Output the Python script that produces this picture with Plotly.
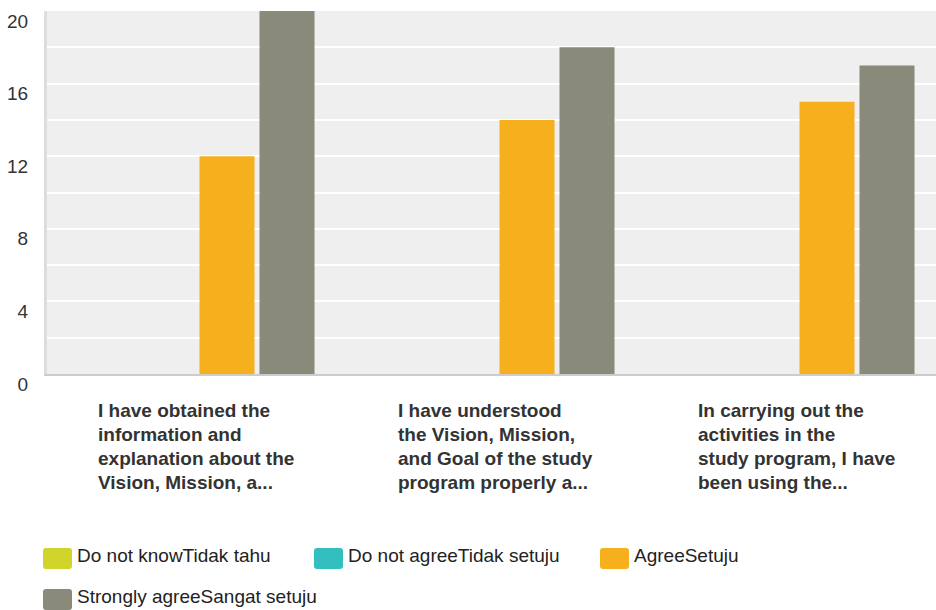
import plotly.graph_objects as go

# ---- data ----
categories = ["Q1", "Q2", "Q3"]
category_lines = [
    ["I have obtained the", "information and", "explanation about the", "Vision, Mission, a..."],
    ["I have understood", "the Vision, Mission,", "and Goal of the study", "program properly a..."],
    ["In carrying out the", "activities in the", "study program, I have", "been using the..."],
]
series_names = ["Do not knowTidak tahu", "Do not agreeTidak setuju", "AgreeSetuju", "Strongly agreeSangat setuju"]
do_not_know = [0, 0, 0]
do_not_agree = [0, 0, 0]
agree = [12, 14, 15]
strongly_agree = [20, 18, 17]
series_values = [do_not_know, do_not_agree, agree, strongly_agree]
series_colors = ["#cfd52a", "#33bfbf", "#f6b01e", "#8a8a7a"]
y_tick_values = [0, 4, 8, 12, 16, 20]

W, H = 936, 610
ML, MR, MT = 47, 0, 11
PW = W - ML - MR
PH = 374 - 11
MB = H - MT - PH


def px_x(x):  # page pixel -> paper
    return (x - ML) / PW


def px_y(y):  # page pixel -> paper
    return (MT + PH - y) / PH


fig = go.Figure()
for name, vals, col in zip(series_names, series_values, series_colors):
    fig.add_trace(go.Bar(x=list(range(len(categories))), y=vals, name=name,
                         marker=dict(color=col, line=dict(width=0)), showlegend=False))

# category labels (left-aligned multi-line)
for i, lines in enumerate(category_lines):
    for j, line in enumerate(lines):
        fig.add_annotation(x=i, xref="x", y=px_y(410 + j * 24.3), yref="paper",
                           text=line, showarrow=False, xanchor="left", yanchor="middle",
                           xshift=-101, font=dict(family="Liberation Sans, Arial", size=19,
                                                 color="#333333", weight="bold"))

# custom legend
legend_pos = [(43, 558.5), (314, 558.5), (600, 558.5), (43, 599.5)]
sw, sh, r = 29, 21, 3
for (lx, ly), name, col in zip(legend_pos, series_names, series_colors):
    x0, x1 = lx, lx + sw
    y0, y1 = ly - sh / 2, ly + sh / 2
    path = (f"M {px_x(x0 + r)} {px_y(y0)} L {px_x(x1 - r)} {px_y(y0)} "
            f"Q {px_x(x1)} {px_y(y0)} {px_x(x1)} {px_y(y0 + r)} "
            f"L {px_x(x1)} {px_y(y1 - r)} Q {px_x(x1)} {px_y(y1)} {px_x(x1 - r)} {px_y(y1)} "
            f"L {px_x(x0 + r)} {px_y(y1)} Q {px_x(x0)} {px_y(y1)} {px_x(x0)} {px_y(y1 - r)} "
            f"L {px_x(x0)} {px_y(y0 + r)} Q {px_x(x0)} {px_y(y0)} {px_x(x0 + r)} {px_y(y0)} Z")
    fig.add_shape(type="path", path=path, xref="paper", yref="paper",
                  fillcolor=col, line=dict(width=0))
    fig.add_annotation(x=px_x(lx + 32), y=px_y(ly - 3), xref="paper", yref="paper",
                       text=name, showarrow=False, xanchor="left", yanchor="middle",
                       font=dict(family="Liberation Sans, Arial", size=19, color="#222222"))

fig.update_layout(
    width=W, height=H,
    margin=dict(l=ML, r=MR, t=MT, b=MB, pad=0),
    paper_bgcolor="white", plot_bgcolor="#efefef",
    barmode="group", bargap=0.2, bargroupgap=0.083,
    showlegend=False,
    font=dict(family="Liberation Sans, Arial", color="#333333"),
)
fig.update_xaxes(range=[-0.5, -0.5 + PW / 300], showticklabels=False, showgrid=False,
                 zeroline=False, showline=True, linecolor="#cccccc", linewidth=2, ticks="")
fig.update_yaxes(range=[0, 20.001], tickvals=y_tick_values, showgrid=True, gridcolor="white",
                 gridwidth=2, minor=dict(dtick=2, showgrid=True, gridcolor="white", gridwidth=2),
                 zeroline=False, showline=True, linecolor="#dddddd", linewidth=3,
                 tickfont=dict(size=19, color="#333333"), ticklabelstandoff=12,
                 ticklabelshift=10)

fig.write_html("out.html", config={"displayModeBar": False},
               post_script="document.body.style.margin='0';document.body.style.overflow='hidden';")
